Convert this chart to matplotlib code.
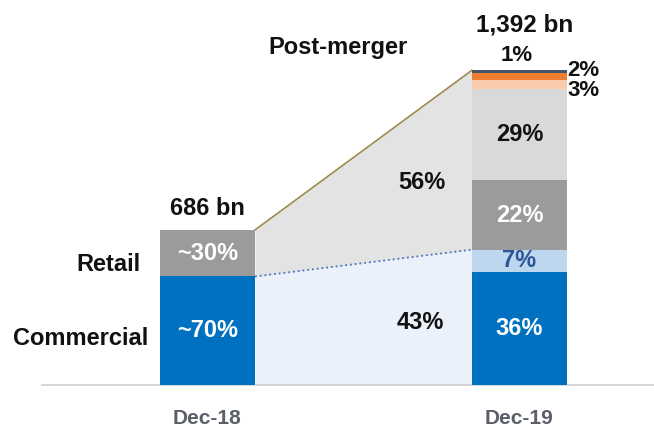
import matplotlib.pyplot as plt

plt.rcParams['font.family'] = ['Liberation Sans', 'DejaVu Sans']

# data
periods = ['Dec-18', 'Dec-19']
totals = [686, 1392]
left_shares = [70, 30]            # Commercial, Retail
left_labels = ['~70%', '~30%']
right_shares = [36, 7, 22, 29, 3, 2, 1]
right_labels = ['36%', '7%', '22%', '29%', '3%', '2%', '1%']
right_colors = ['#0070C0', '#BDD7EE', '#9B9B9B', '#D9D9D9', '#F8CBAD', '#ED7D31', '#44546A']
right_text = ['white', '#2F5597', 'white', '#111111', None, None, None]
flow_labels = ['43%', '56%']      # commercial, retail after merger

FS = 17
DARK = '#111111'
w = 0.305
fig = plt.figure(figsize=(6.54, 4.28), dpi=100)
ax = fig.add_axes([42 / 654, 43 / 428, 1 - 42 / 654, 385 / 428])
ax.set_xlim(-0.530, 1.431)
ax.set_ylim(0, 1703)

# left bar
left_colors = ['#0070C0', '#9B9B9B']
bottom = 0
for share, lab, col in zip(left_shares, left_labels, left_colors):
    h = totals[0] * share / 100
    ax.bar(0, h, w, bottom=bottom, color=col, zorder=3)
    ax.text(0, bottom + h / 2, lab, ha='center', va='center', color='white',
            fontsize=FS, fontweight='bold', zorder=4)
    bottom += h
left_comm = totals[0] * left_shares[0] / 100

# right bar
bottom = 0
mids = []
for share, col in zip(right_shares, right_colors):
    h = totals[1] * share / 100
    ax.bar(1, h, w, bottom=bottom, color=col, zorder=3)
    mids.append(bottom + h / 2)
    bottom += h
for i, (lab, tc) in enumerate(zip(right_labels, right_text)):
    if tc is not None:
        ax.text(1, mids[i], lab, ha='center', va='center', color=tc,
                fontsize=FS, fontweight='bold', zorder=4)
right_comm = totals[1] * (right_shares[0] + right_shares[1]) / 100

# small segments labelled outside
ax.text(0.99, totals[1] + 20, right_labels[6], ha='center', va='bottom',
        fontsize=FS - 1, fontweight='bold', color=DARK)
ax.text(w / 2 + 1.0, mids[5] + 25, right_labels[5], ha='left', va='center',
        fontsize=FS - 1, fontweight='bold', color=DARK)
ax.text(w / 2 + 1.0, mids[4] - 28, right_labels[4], ha='left', va='center',
        fontsize=FS - 1, fontweight='bold', color=DARK)

# flows between bars
x0, x1 = w / 2, 1 - w / 2
ax.fill_between([x0, x1], [0, 0], [left_comm, right_comm], color='#EAF1FA', lw=0, zorder=1)
ax.fill_between([x0, x1], [left_comm, right_comm], totals, color='#E3E3E3', lw=0, zorder=1)
ax.plot([x0, x1], [left_comm, right_comm], ls=':', color='#4472C4', lw=1.3, zorder=2)
ax.plot([x0, x1], totals, color='#9C8A4E', lw=1.2, zorder=2)
ax.text(0.681, 275, flow_labels[0], ha='center', va='center',
        fontsize=FS, fontweight='bold', color=DARK)
ax.text(0.687, 895, flow_labels[1], ha='center', va='center',
        fontsize=FS, fontweight='bold', color=DARK)

# totals
ax.text(0.0, totals[0] + 45, f'{totals[0]:,} bn', ha='center', va='bottom',
        fontsize=FS, fontweight='bold', color=DARK)
ax.text(1.015, totals[1] + 150, f'{totals[1]:,} bn', ha='center', va='bottom',
        fontsize=FS + 0.5, fontweight='bold', color=DARK)
ax.text(0.418, 1495, 'Post-merger', ha='center', va='center',
        fontsize=FS, fontweight='bold', color=DARK)

# segment names
ax.text(-0.215, left_comm + (totals[0] - left_comm) / 2 - 50, 'Retail', ha='right',
        va='center', fontsize=FS, fontweight='bold', color=DARK)
ax.text(-0.19, left_comm / 2 - 35, 'Commercial', ha='right', va='center',
        fontsize=FS, fontweight='bold', color=DARK)

for s in ['top', 'right', 'left']:
    ax.spines[s].set_visible(False)
ax.spines['bottom'].set_color('#D0D0D0')
ax.spines['bottom'].set_linewidth(1.2)
ax.set_yticks([])
ax.set_xticks([0, 1])
ax.set_xticklabels(periods, fontsize=15, fontweight='bold', color='#5A5F6A')
ax.tick_params(axis='x', length=0, pad=17)

fig.savefig('out.png', dpi=100)
